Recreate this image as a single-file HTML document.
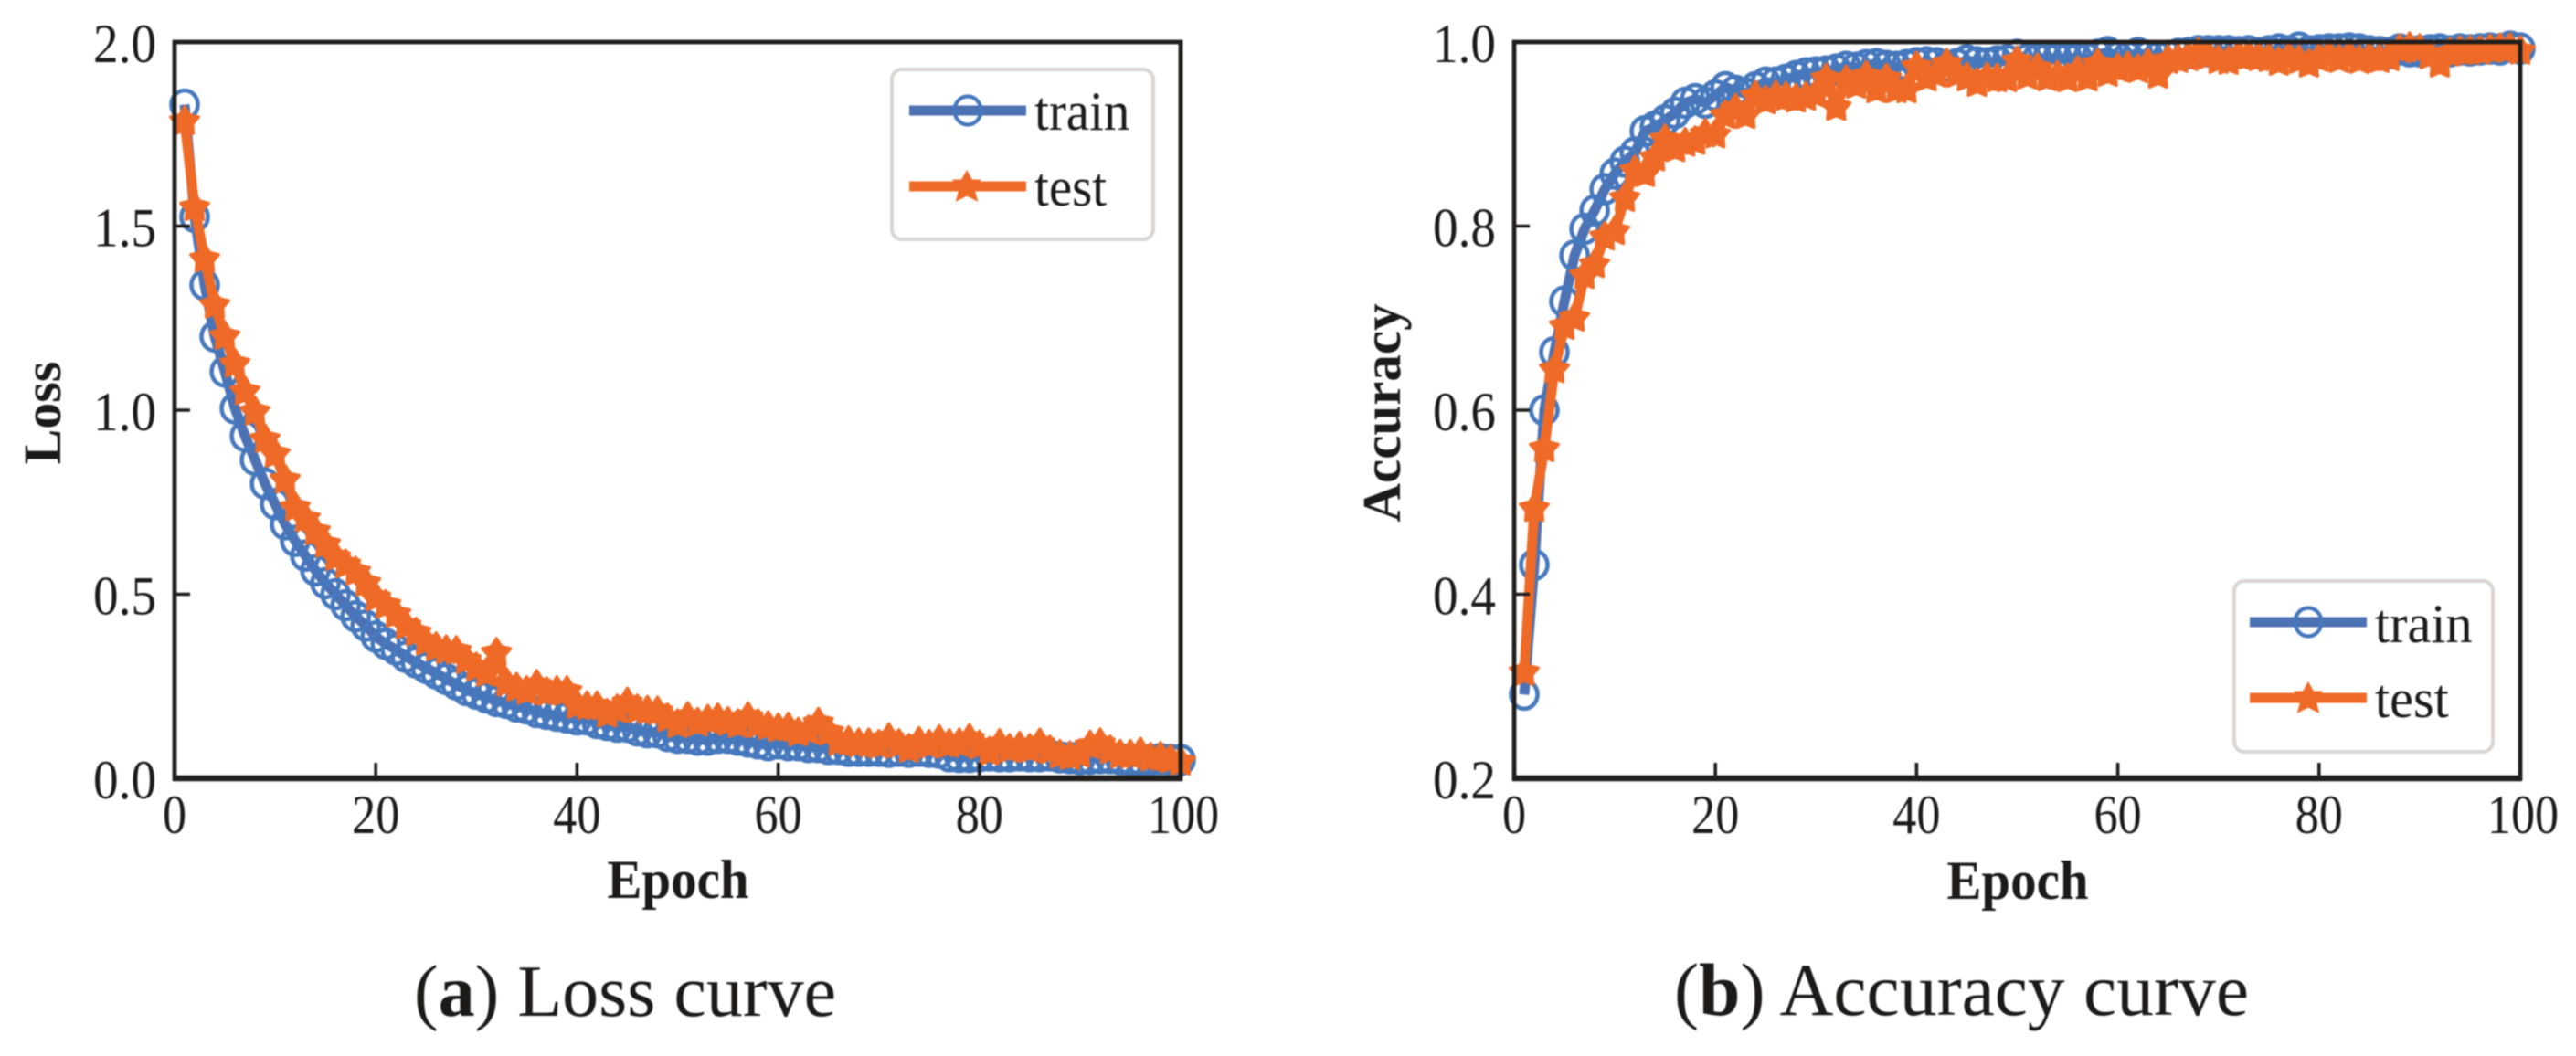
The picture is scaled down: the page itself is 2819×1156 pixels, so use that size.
<!DOCTYPE html>
<html lang="en">
<head>
<meta charset="utf-8">
<title>Loss and accuracy curves</title>
<style>
html,body{margin:0;padding:0;background:#fff;}
svg{display:block;width:2819px;height:1156px;filter:blur(.7px);}
text{font-family:"Liberation Serif",serif;fill:#1c1a18;}
.b{font-weight:bold;}
</style>
</head>
<body>
<svg id="figure" xmlns="http://www.w3.org/2000/svg" width="2819" height="1156" viewBox="0 0 2819 1156">
  <rect x="0" y="0" width="2819" height="1156" fill="#fff"/>
  <g id="panel-a"></g>
  <g id="panel-b"></g>

  <text class="b" font-size="58" text-anchor="middle" transform="translate(66,452) rotate(-90)">Loss</text>
  <text class="b" font-size="60" text-anchor="middle" transform="translate(742,983) scale(.95,1)">Epoch</text>
  <text class="b" font-size="59" text-anchor="middle" transform="translate(1532,452) rotate(-90)">Accuracy</text>
  <text class="b" font-size="60" text-anchor="middle" transform="translate(2208,984) scale(.95,1)">Epoch</text>

  <g>
    <rect x="976" y="76" width="286" height="186" rx="11" fill="#fff" stroke="#d9d6d3" stroke-width="4"/>
    <line x1="995" y1="121" x2="1123" y2="121" stroke="#4c72b4" stroke-width="11"/>
    <ellipse cx="1059" cy="121" rx="14.5" ry="15.5" fill="none" stroke="#4678bd" stroke-width="4.2"/>
    <text font-size="60" transform="translate(1132,142) scale(.95,1)">train</text>
    <line x1="995" y1="204" x2="1123" y2="204" stroke="#ee6a26" stroke-width="11"/>
    <polygon points="1058,189 1063,198 1071,198 1065,207 1068,218 1058,213 1048,218 1051,207 1045,198 1053,198" fill="#ee6a26" stroke="#ee6a26" stroke-width="3"/>
    <text font-size="60" transform="translate(1132,225) scale(.95,1)">test</text>
  </g>

  <g>
    <rect x="2445" y="636" width="283" height="187" rx="11" fill="#fff" stroke="#d9d6d3" stroke-width="4"/>
    <line x1="2462" y1="681" x2="2590" y2="681" stroke="#4c72b4" stroke-width="11"/>
    <ellipse cx="2526" cy="681" rx="14.5" ry="15.5" fill="none" stroke="#4678bd" stroke-width="4.2"/>
    <text font-size="60" transform="translate(2599,703) scale(.97,1)">train</text>
    <line x1="2462" y1="764" x2="2590" y2="764" stroke="#ee6a26" stroke-width="11"/>
    <polygon points="2526,749 2531,758 2539,758 2533,767 2536,778 2526,773 2516,778 2519,767 2513,758 2521,758" fill="#ee6a26" stroke="#ee6a26" stroke-width="3"/>
    <text font-size="60" transform="translate(2599,785) scale(.97,1)">test</text>
  </g>

  <text font-size="80" x="453" y="1112">(<tspan class="b">a</tspan>) Loss curve</text>
  <text font-size="81.5" x="1832" y="1111">(<tspan class="b">b</tspan>) Accuracy curve</text>
</svg>
<script>
const xTicks = [0, 20, 40, 60, 80, 100];
const lossTicks = [0, 0.5, 1, 1.5, 2];
const lossTickLabels = ["0.0", "0.5", "1.0", "1.5", "2.0"];
const accTicks = [0.2, 0.4, 0.6, 0.8, 1];
const accTickLabels = ["0.2", "0.4", "0.6", "0.8", "1.0"];

const lossTrain = [
1.83,1.525,1.34,1.20,1.105,1.005,.93,.865,.80,.745,
.69,.645,.605,.565,.53,.50,.47,.44,.415,.385,
.365,.35,.33,.315,.30,.285,.27,.255,.24,.23,
.22,.21,.205,.195,.19,.18,.175,.17,.165,.16,
.16,.15,.145,.14,.14,.13,.125,.125,.115,.11,
.11,.105,.105,.11,.11,.105,.10,.095,.09,.095,
.09,.09,.085,.085,.08,.08,.075,.075,.075,.075,
.072,.075,.072,.075,.072,.07,.06,.058,.058,.06,
.062,.06,.06,.062,.06,.06,.062,.057,.055,.052,
.053,.055,.055,.052,.05,.05,.05,.052,.05,.05];

const lossTest = [
1.784,1.55,1.41,1.285,1.20,1.125,1.05,.995,.92,.88,
.81,.735,.705,.67,.635,.60,.58,.56,.53,.49,
.47,.445,.414,.395,.37,.355,.347,.345,.32,.30,
.285,.34,.258,.245,.236,.253,.233,.236,.236,.198,
.195,.195,.174,.186,.205,.186,.183,.181,.162,.146,
.166,.15,.158,.162,.152,.146,.165,.146,.141,.135,
.137,.123,.129,.15,.125,.098,.10,.094,.094,.09,
.108,.092,.079,.098,.09,.103,.092,.094,.106,.088,
.071,.092,.079,.085,.079,.094,.075,.063,.059,.065,
.088,.094,.075,.063,.063,.069,.055,.057,.05,.044];

const accTrain = [
.291,.432,.60,.663,.718,.768,.797,.817,.84,.857,
.87,.88,.903,.908,.915,.923,.934,.938,.934,.942,
.951,.947,.944,.951,.956,.956,.959,.963,.966,.967,
.968,.97,.973,.972,.975,.976,.974,.973,.975,.977,
.978,.977,.974,.976,.98,.978,.977,.979,.98,.986,
.981,.982,.982,.982,.982,.982,.982,.986,.989,.984,
.984,.988,.985,.984,.985,.987,.988,.99,.99,.99,
.99,.989,.99,.988,.99,.992,.99,.994,.99,.991,
.992,.992,.993,.992,.99,.989,.988,.992,.99,.99,
.991,.992,.99,.992,.991,.992,.993,.992,.995,.993];

const accTest = [
.315,.493,.558,.644,.691,.70,.746,.758,.788,.794,
.83,.86,.857,.874,.894,.884,.89,.892,.90,.899,
.92,.927,.92,.941,.936,.941,.94,.938,.94,.943,
.96,.929,.958,.953,.963,.948,.96,.948,.948,.973,
.961,.965,.976,.965,.961,.955,.961,.96,.96,.979,
.963,.971,.961,.963,.96,.968,.961,.976,.966,.971,
.973,.97,.976,.964,.98,.981,.983,.988,.985,.98,
.979,.985,.985,.983,.982,.978,.983,.98,.976,.982,
.985,.981,.985,.98,.983,.981,.983,.992,.994,.992,
.985,.976,.988,.99,.99,.99,.992,.993,.993,.99];

const NS = "http://www.w3.org/2000/svg";
const TRAIN_LINE = "#4c72b4";
const TRAIN_EDGE = "#4678bd";
const TEST_COLOR = "#ee6a26";
const SPINE = "#201e1c";

function make(tag, attrs, parent) {
  const el = document.createElementNS(NS, tag);
  for (const k in attrs) el.setAttribute(k, attrs[k]);
  parent.appendChild(el);
  return el;
}

function starPoints(cx, cy) {
  const outer = 16, inner = 9, pts = [];
  for (let i = 0; i < 10; i++) {
    const r = i % 2 ? inner : outer;
    const a = -Math.PI / 2 + i * Math.PI / 5;
    pts.push((cx + r * Math.cos(a)).toFixed(1) + "," + (cy + r * Math.sin(a)).toFixed(1));
  }
  return pts.join(" ");
}

function drawPanel(cfg) {
  const root = document.getElementById(cfg.rootId);
  const xs = e => cfg.left + (e / 100) * (cfg.right - cfg.left);
  const ys = v => cfg.bottom - ((v - cfg.yMin) / (cfg.yMax - cfg.yMin)) * (cfg.bottom - cfg.top);

  const trainPts = cfg.train.map((v, i) => xs(i + 1).toFixed(1) + "," + ys(v).toFixed(1)).join(" ");
  const trainLine = make("polyline", {points: trainPts, fill: "none", stroke: TRAIN_LINE, "stroke-width": 11, "stroke-linejoin": "round"}, root);
  
  
  cfg.train.forEach((v, i) => {
    const c = make("ellipse", {cx: xs(i + 1).toFixed(1), cy: ys(v).toFixed(1), rx: 14.5, ry: 15.5, fill: "none", stroke: TRAIN_EDGE, "stroke-width": 4.6}, root);
    
    
  });

  const testPts = cfg.test.map((v, i) => xs(i + 1).toFixed(1) + "," + ys(v).toFixed(1)).join(" ");
  const testLine = make("polyline", {points: testPts, fill: "none", stroke: TEST_COLOR, "stroke-width": 11, "stroke-linejoin": "round"}, root);
  
  
  cfg.test.forEach((v, i) => {
    const s = make("polygon", {points: starPoints(xs(i + 1), ys(v)), fill: TEST_COLOR, stroke: TEST_COLOR, "stroke-width": 3.5, "stroke-linejoin": "round"}, root);
    
    
  });

  const frame = make("rect", {x: cfg.left, y: cfg.top, width: cfg.right - cfg.left, height: cfg.bottom - cfg.top, fill: "none", stroke: SPINE, "stroke-width": 4.8}, root);
  
  
  const base = make("line", {x1: cfg.left - 2, x2: cfg.right + 2, y1: cfg.bottom, y2: cfg.bottom, stroke: SPINE, "stroke-width": 6.4}, root);
  
  

  xTicks.forEach(t => {
    const tick = make("line", {x1: xs(t), x2: xs(t), y1: cfg.bottom, y2: cfg.bottom - 17, stroke: SPINE, "stroke-width": 3.6}, root);
    
    
    const lab = make("text", {"font-size": 60, "text-anchor": "middle", transform: "translate(" + (xs(t) + (t === 100 ? 3 : 0)) + "," + (cfg.bottom + 60) + ") scale(.87,1)"}, root);
    lab.textContent = String(t);
    
    
  });

  cfg.yTicks.forEach((t, i) => {
    const tick = make("line", {x1: cfg.left, x2: cfg.left + 17, y1: ys(t), y2: ys(t), stroke: SPINE, "stroke-width": 3.6}, root);
    
    
    const lab = make("text", {"font-size": 60, "text-anchor": "end", transform: "translate(" + (cfg.left - 20) + "," + (ys(t) + 22) + ") scale(.92,1)"}, root);
    lab.textContent = cfg.yLabels[i];
    
    
  });
}

drawPanel({rootId: "panel-a", left: 191, right: 1292, top: 46, bottom: 852, yMin: 0, yMax: 2,
  train: lossTrain, test: lossTest, yTicks: lossTicks, yLabels: lossTickLabels});
drawPanel({rootId: "panel-b", left: 1657, right: 2758, top: 46, bottom: 852, yMin: 0.2, yMax: 1,
  train: accTrain, test: accTest, yTicks: accTicks, yLabels: accTickLabels});
</script>
</body>
</html>
